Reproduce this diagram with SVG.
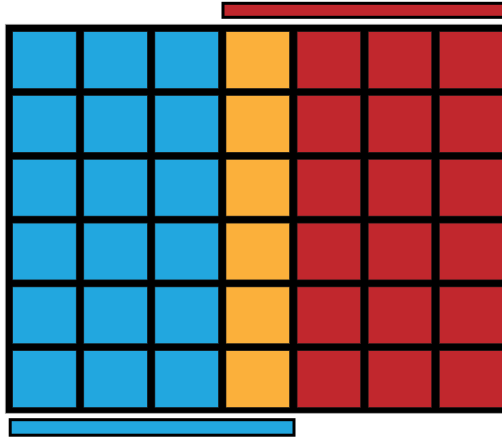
<svg xmlns="http://www.w3.org/2000/svg" width="502" height="439" viewBox="0 0 502 439">
<style>
.b{fill:#22A7DF}
.o{fill:#FBB03B}
.r{fill:#C1272D}
.c{stroke:#1a1a1a;stroke-width:0.6}
.bar{stroke:#000;stroke-width:3}
</style>
<rect width="502" height="439" fill="#fff"/>
<g id="top-bar"><rect class="bar r" x="223" y="3.3" width="300" height="14"/></g>
<g id="grid">
<rect x="5.3" y="24.3" width="520" height="389" fill="#000" stroke="#aaa" stroke-width="0.8"/>
<g id="col1"><rect class="c b" x="12.7" y="31.7" width="63.5" height="56.8"/><rect class="c b" x="12.7" y="95.5" width="63.5" height="56.8"/><rect class="c b" x="12.7" y="159.3" width="63.5" height="56.8"/><rect class="c b" x="12.7" y="223.1" width="63.5" height="56.8"/><rect class="c b" x="12.7" y="286.9" width="63.5" height="56.8"/><rect class="c b" x="12.7" y="350.7" width="63.5" height="56.8"/></g>
<g id="col2"><rect class="c b" x="83.8" y="31.7" width="63.5" height="56.8"/><rect class="c b" x="83.8" y="95.5" width="63.5" height="56.8"/><rect class="c b" x="83.8" y="159.3" width="63.5" height="56.8"/><rect class="c b" x="83.8" y="223.1" width="63.5" height="56.8"/><rect class="c b" x="83.8" y="286.9" width="63.5" height="56.8"/><rect class="c b" x="83.8" y="350.7" width="63.5" height="56.8"/></g>
<g id="col3"><rect class="c b" x="154.9" y="31.7" width="63.5" height="56.8"/><rect class="c b" x="154.9" y="95.5" width="63.5" height="56.8"/><rect class="c b" x="154.9" y="159.3" width="63.5" height="56.8"/><rect class="c b" x="154.9" y="223.1" width="63.5" height="56.8"/><rect class="c b" x="154.9" y="286.9" width="63.5" height="56.8"/><rect class="c b" x="154.9" y="350.7" width="63.5" height="56.8"/></g>
<g id="col4"><rect class="c o" x="226" y="31.7" width="63.5" height="56.8"/><rect class="c o" x="226" y="95.5" width="63.5" height="56.8"/><rect class="c o" x="226" y="159.3" width="63.5" height="56.8"/><rect class="c o" x="226" y="223.1" width="63.5" height="56.8"/><rect class="c o" x="226" y="286.9" width="63.5" height="56.8"/><rect class="c o" x="226" y="350.7" width="63.5" height="56.8"/></g>
<g id="col5"><rect class="c r" x="297.1" y="31.7" width="63.5" height="56.8"/><rect class="c r" x="297.1" y="95.5" width="63.5" height="56.8"/><rect class="c r" x="297.1" y="159.3" width="63.5" height="56.8"/><rect class="c r" x="297.1" y="223.1" width="63.5" height="56.8"/><rect class="c r" x="297.1" y="286.9" width="63.5" height="56.8"/><rect class="c r" x="297.1" y="350.7" width="63.5" height="56.8"/></g>
<g id="col6"><rect class="c r" x="368.2" y="31.7" width="63.5" height="56.8"/><rect class="c r" x="368.2" y="95.5" width="63.5" height="56.8"/><rect class="c r" x="368.2" y="159.3" width="63.5" height="56.8"/><rect class="c r" x="368.2" y="223.1" width="63.5" height="56.8"/><rect class="c r" x="368.2" y="286.9" width="63.5" height="56.8"/><rect class="c r" x="368.2" y="350.7" width="63.5" height="56.8"/></g>
<g id="col7"><rect class="c r" x="439.3" y="31.7" width="63.5" height="56.8"/><rect class="c r" x="439.3" y="95.5" width="63.5" height="56.8"/><rect class="c r" x="439.3" y="159.3" width="63.5" height="56.8"/><rect class="c r" x="439.3" y="223.1" width="63.5" height="56.8"/><rect class="c r" x="439.3" y="286.9" width="63.5" height="56.8"/><rect class="c r" x="439.3" y="350.7" width="63.5" height="56.8"/></g>
</g>
<g id="bottom-bar"><rect class="bar b" x="10.2" y="419.7" width="283.8" height="15.5"/></g>
<g id="connectors"/>
</svg>
